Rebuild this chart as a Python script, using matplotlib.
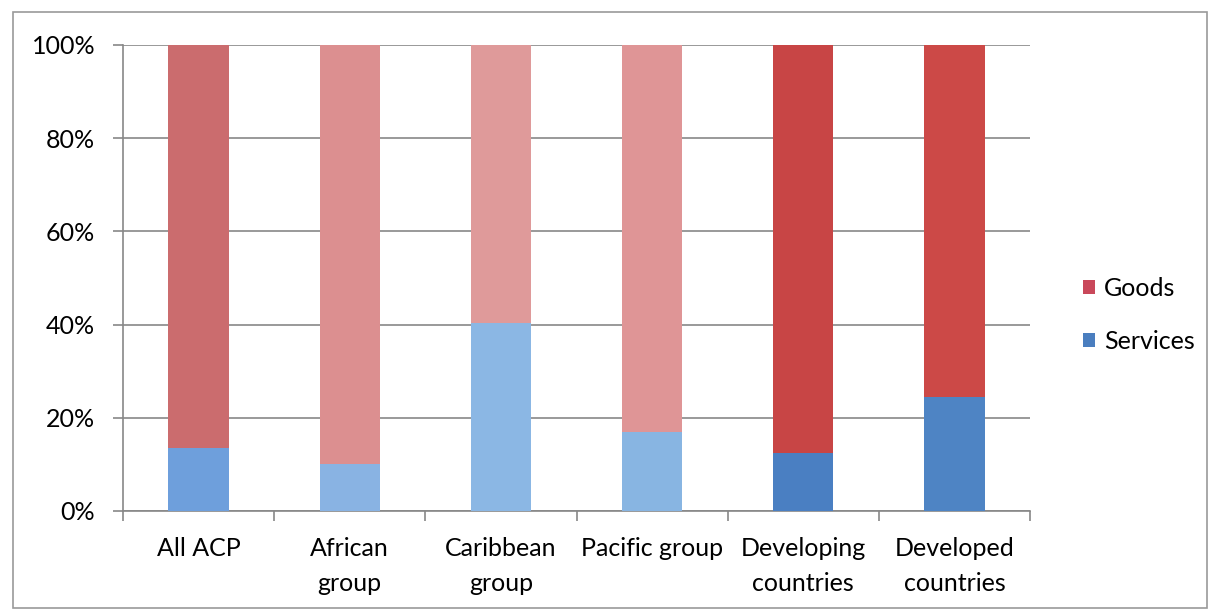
import matplotlib
matplotlib.use("Agg")
import matplotlib.pyplot as plt
from matplotlib.patches import Patch, Rectangle
from matplotlib.ticker import PercentFormatter

plt.rcParams['font.family'] = ['Lato', 'DejaVu Sans']

categories = ["All ACP", "African\ngroup", "Caribbean\ngroup", "Pacific group",
              "Developing\ncountries", "Developed\ncountries"]
services = [13.5, 10.0, 40.3, 17.0, 12.4, 24.5]
goods = [100 - s for s in services]

goods_colors = ["#cb6c6e", "#dc8f90", "#df9a9a", "#df9596", "#c84545", "#cc4947"]
services_colors = ["#6e9fdc", "#89b3e3", "#8bb7e4", "#88b5e2", "#4a7fc2", "#4e84c4"]
legend_colors = {"Goods": "#c9485a", "Services": "#4a7ebf"}

fig = plt.figure(figsize=(12.12, 6.13), dpi=100)
ax = fig.add_axes([123 / 1212, 1 - 511 / 613, (1030 - 123) / 1212, (511 - 45) / 613])

x = list(range(len(categories)))
ax.bar(x, services, width=0.4, color=services_colors, zorder=3)
ax.bar(x, goods, width=0.4, bottom=services, color=goods_colors, zorder=3)

ax.set_xlim(-0.5, len(categories) - 0.5)
ax.set_ylim(0, 100)
ax.set_yticks([0, 20, 40, 60, 80, 100])
ax.yaxis.set_major_formatter(PercentFormatter(decimals=0))
ax.grid(axis='y', color='#878787', linewidth=1.2, zorder=0)

ax.set_xticks(x)
ax.set_xticklabels(categories, linespacing=1.6)
ax.set_xticks([i - 0.5 for i in range(len(categories) + 1)], minor=True)
ax.tick_params(axis='x', which='major', length=0, pad=19, labelsize=18)
ax.tick_params(axis='x', which='minor', length=7, width=1.2, color='#878787')
ax.tick_params(axis='y', length=7, width=1.2, color='#878787', pad=13, labelsize=18)

for side in ('top', 'right'):
    ax.spines[side].set_visible(False)
for side in ('left', 'bottom'):
    ax.spines[side].set_color('#878787')
    ax.spines[side].set_linewidth(1.2)

handles = [Patch(facecolor=legend_colors[k], label=k) for k in ("Goods", "Services")]
fig.legend(handles=handles, loc='center left', bbox_to_anchor=(1060 / 1212, 1 - 315 / 613),
           frameon=False, fontsize=18, handlelength=0.5, handleheight=0.5,
           handletextpad=0.35, labelspacing=1.2)

# outer chart frame
fig.patches.append(Rectangle((13 / 1212, 1 - 608 / 613), (1207 - 13) / 1212, (608 - 12) / 613,
                             transform=fig.transFigure, fill=False, edgecolor='#9a9a9a',
                             linewidth=1.2))

fig.savefig("out.png", dpi=100)
